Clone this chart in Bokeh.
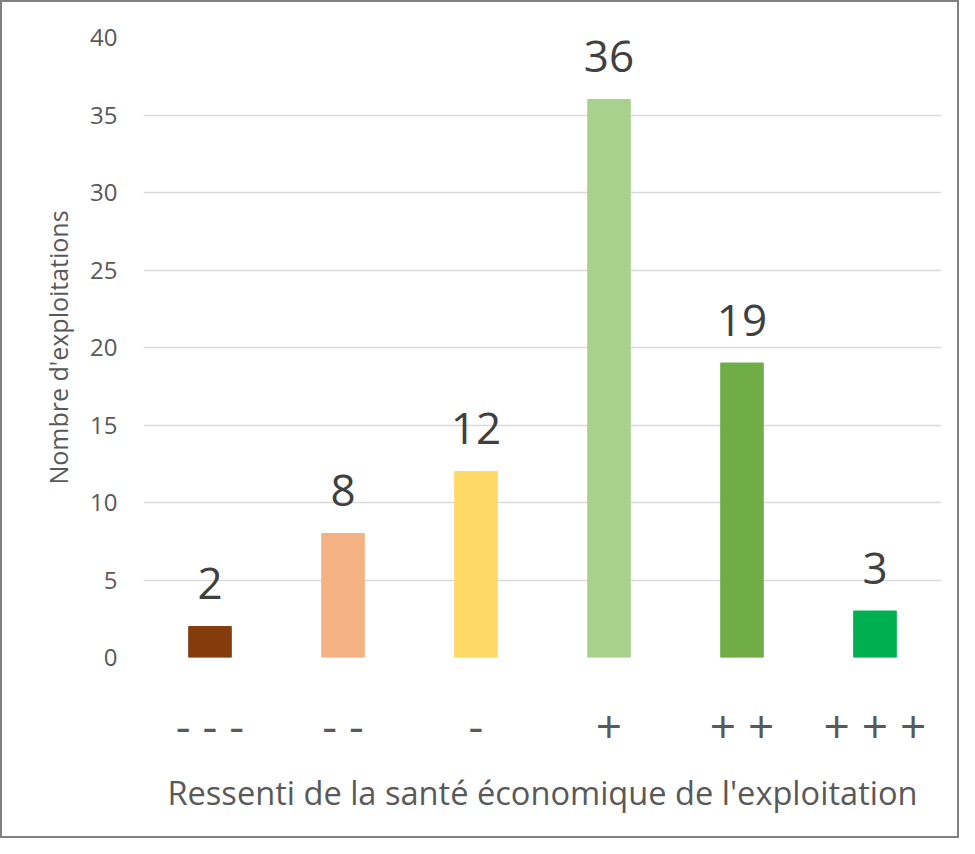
from bokeh.plotting import figure
from bokeh.models import Range1d, FixedTicker, ColumnDataSource
from bokeh.core.properties import value
from bokeh.embed import file_html
from bokeh.resources import INLINE

categories = ["- - -", "- -", "-", "+", "+ +", "+ + +"]
counts = [2, 8, 12, 36, 19, 3]
colors = ["#843C0C", "#F4B183", "#FFD966", "#A9D18E", "#70AD47", "#00B050"]
y_ticks = [0, 5, 10, 15, 20, 25, 30, 35, 40]

FONT = "Open Sans"

src = ColumnDataSource(dict(cat=categories, n=counts, color=colors,
                            lab=[str(v) for v in counts]))

p = figure(x_range=categories, y_range=Range1d(0, 40),
           width=959, height=838, output_backend="svg", toolbar_location=None,
           min_border_left=141, min_border_right=20, min_border_top=35,
           min_border_bottom=183)
p.styles = {"border": "2px solid #808080", "box-sizing": "border-box"}
p.outline_line_color = None
p.background_fill_color = "white"
p.border_fill_color = "white"

p.vbar(x="cat", top="n", width=0.32, color="color", source=src)
p.text(x="cat", y="n", text="lab", source=src, text_align="center",
       text_baseline="alphabetic", y_offset=-43,
       text_font=value(FONT), text_font_size="44px", text_color="#404040")

p.xgrid.grid_line_color = None
p.ygrid.grid_line_color = "#D9D9D9"
p.ygrid.grid_line_width = 1.5
p.yaxis.ticker = FixedTicker(ticks=y_ticks)

for ax in (p.xaxis, p.yaxis):
    ax.axis_line_color = None
    ax.major_tick_line_color = None
    ax.minor_tick_line_color = None
    ax.major_label_text_font = FONT
    ax.major_label_text_color = "#595959"
    ax.axis_label_text_font = FONT
    ax.axis_label_text_color = "#595959"
    ax.axis_label_text_font_style = "normal"

p.yaxis.major_label_text_font_size = "24px"
p.yaxis.major_label_standoff = 20
p.yaxis.axis_label = "Nombre d'exploitations"
p.yaxis.axis_label_text_font_size = "25px"
p.yaxis.axis_label_standoff = 12

p.xaxis.major_label_text_font_size = "46px"
p.xaxis.major_label_standoff = 30
p.xaxis.axis_label = "Ressenti de la santé économique de l'exploitation"
p.xaxis.axis_label_text_font_size = "32.6px"
p.xaxis.axis_label_standoff = 11

open("out.html", "w").write(file_html(p, INLINE))
